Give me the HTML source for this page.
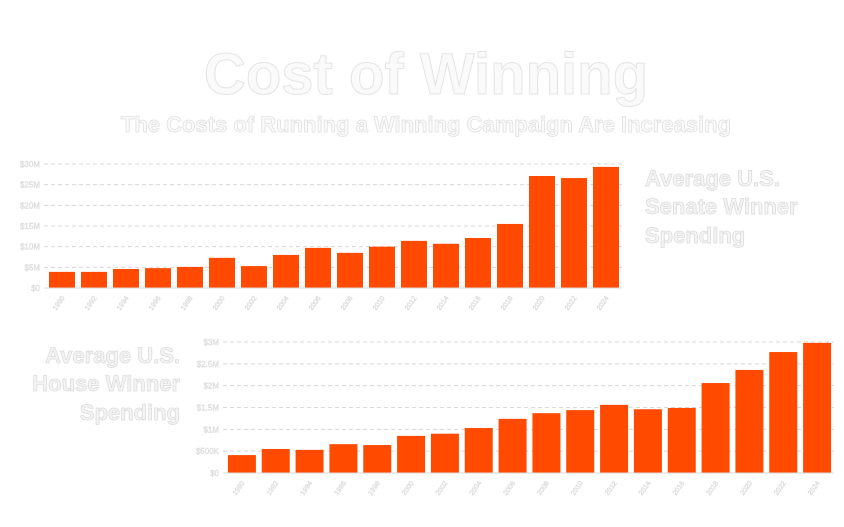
<!DOCTYPE html>
<html><head><meta charset="utf-8"><style>
body{margin:0;background:#fff;width:844px;height:522px;overflow:hidden;font-family:"Liberation Sans",sans-serif}
svg text{font-family:"Liberation Sans",sans-serif}
</style></head><body>
<svg id="c" width="844" height="522">
<text x="426" y="94" text-anchor="middle" font-size="58" font-weight="bold" fill="#fafafa" stroke="#e4e4e4" stroke-width="1">Cost of Winning</text>
<text x="426" y="132" text-anchor="middle" font-size="22" font-weight="bold" fill="#fafafa" stroke="#e0e0e0" stroke-width="0.8">The Costs of Running a Winning Campaign Are Increasing</text>
<g font-size="22" font-weight="bold" fill="#f4f4f4" stroke="#dcdcdc" stroke-width="0.8">
<text x="645" y="186">Average U.S.</text><text x="645" y="214">Senate Winner</text><text x="645" y="243">Spending</text></g>
<g font-size="22" font-weight="bold" fill="#f4f4f4" stroke="#dcdcdc" stroke-width="0.8" text-anchor="end">
<text x="180" y="363">Average U.S.</text><text x="180" y="391">House Winner</text><text x="180" y="420">Spending</text></g>
<g id="senate"></g><g id="house"></g>
</svg>
<script>
const years = [1990,1992,1994,1996,1998,2000,2002,2004,2006,2008,2010,2012,2014,2016,2018,2020,2022,2024];
const senateValues = [3.9,3.9,4.6,4.8,5.1,7.3,5.3,8.0,9.7,8.5,10.0,11.4,10.7,12.1,15.5,27.1,26.6,29.3];
const senateTicks = [0,5,10,15,20,25,30];
const senateTickLabels = ["$0","$5M","$10M","$15M","$20M","$25M","$30M"];
const houseValues = [0.41,0.55,0.53,0.66,0.64,0.85,0.9,1.03,1.24,1.37,1.44,1.56,1.46,1.49,2.06,2.36,2.77,2.98];
const houseTicks = [0,0.5,1,1.5,2,2.5,3];
const houseTickLabels = ["$0","$500K","$1M","$1.5M","$2M","$2.5M","$3M"];
const NS="http://www.w3.org/2000/svg";
function mk(t,a,p){const e=document.createElementNS(NS,t);for(const k in a)e.setAttribute(k,a[k]);p.appendChild(e);return e;}
function draw(g,vals,ticks,labels,cfg,prefix){
  const y=v=>cfg.y0-(v/cfg.max)*(cfg.y0-cfg.y1);
  const step=(cfg.x1-cfg.x0)/vals.length;
  const x=i=>cfg.x0+i*step;
  ticks.forEach((t,i)=>{
    const l=mk('line',{x1:cfg.x0-2,x2:cfg.x1,y1:y(t),y2:y(t),stroke:'#d8d8d8','stroke-dasharray':'4,3'},g);
    
    
    const tx=mk('text',{x:cfg.x0-6,y:y(t)+3,'text-anchor':'end','font-size':8,fill:'#f2f2f2',stroke:'#d8d8d8','stroke-width':0.4},g);
    tx.textContent=labels[i];
    
    
  });
  vals.forEach((v,i)=>{
    const bx=x(i)+(step-cfg.bw)/2;
    const r=mk('rect',{x:bx,y:y(v),width:cfg.bw,height:cfg.y0-y(v),fill:'#ff4a00'},g);
    
    
    const cx=bx+cfg.bw/2, cy=cfg.y0+10;
    const tx=mk('text',{x:cx+3,y:cy,'text-anchor':'end','font-size':7,fill:'#f2f2f2',stroke:'#d8d8d8','stroke-width':0.4,transform:`rotate(-55 ${cx+3} ${cy})`},g);
    tx.textContent=years[i];
    
    
  });
  const b=mk('line',{x1:cfg.x0,x2:cfg.x1,y1:cfg.y0,y2:cfg.y0,stroke:'#d8d8d8'},g);
  
  
}
draw(document.getElementById('senate'),senateValues,senateTicks,senateTickLabels,{x0:46,x1:622,y0:288,y1:164,max:30,bw:26},'senate');
draw(document.getElementById('house'),houseValues,houseTicks,houseTickLabels,{x0:225,x1:834,y0:473,y1:342,max:3,bw:28},'house');
</script>
</body></html>
